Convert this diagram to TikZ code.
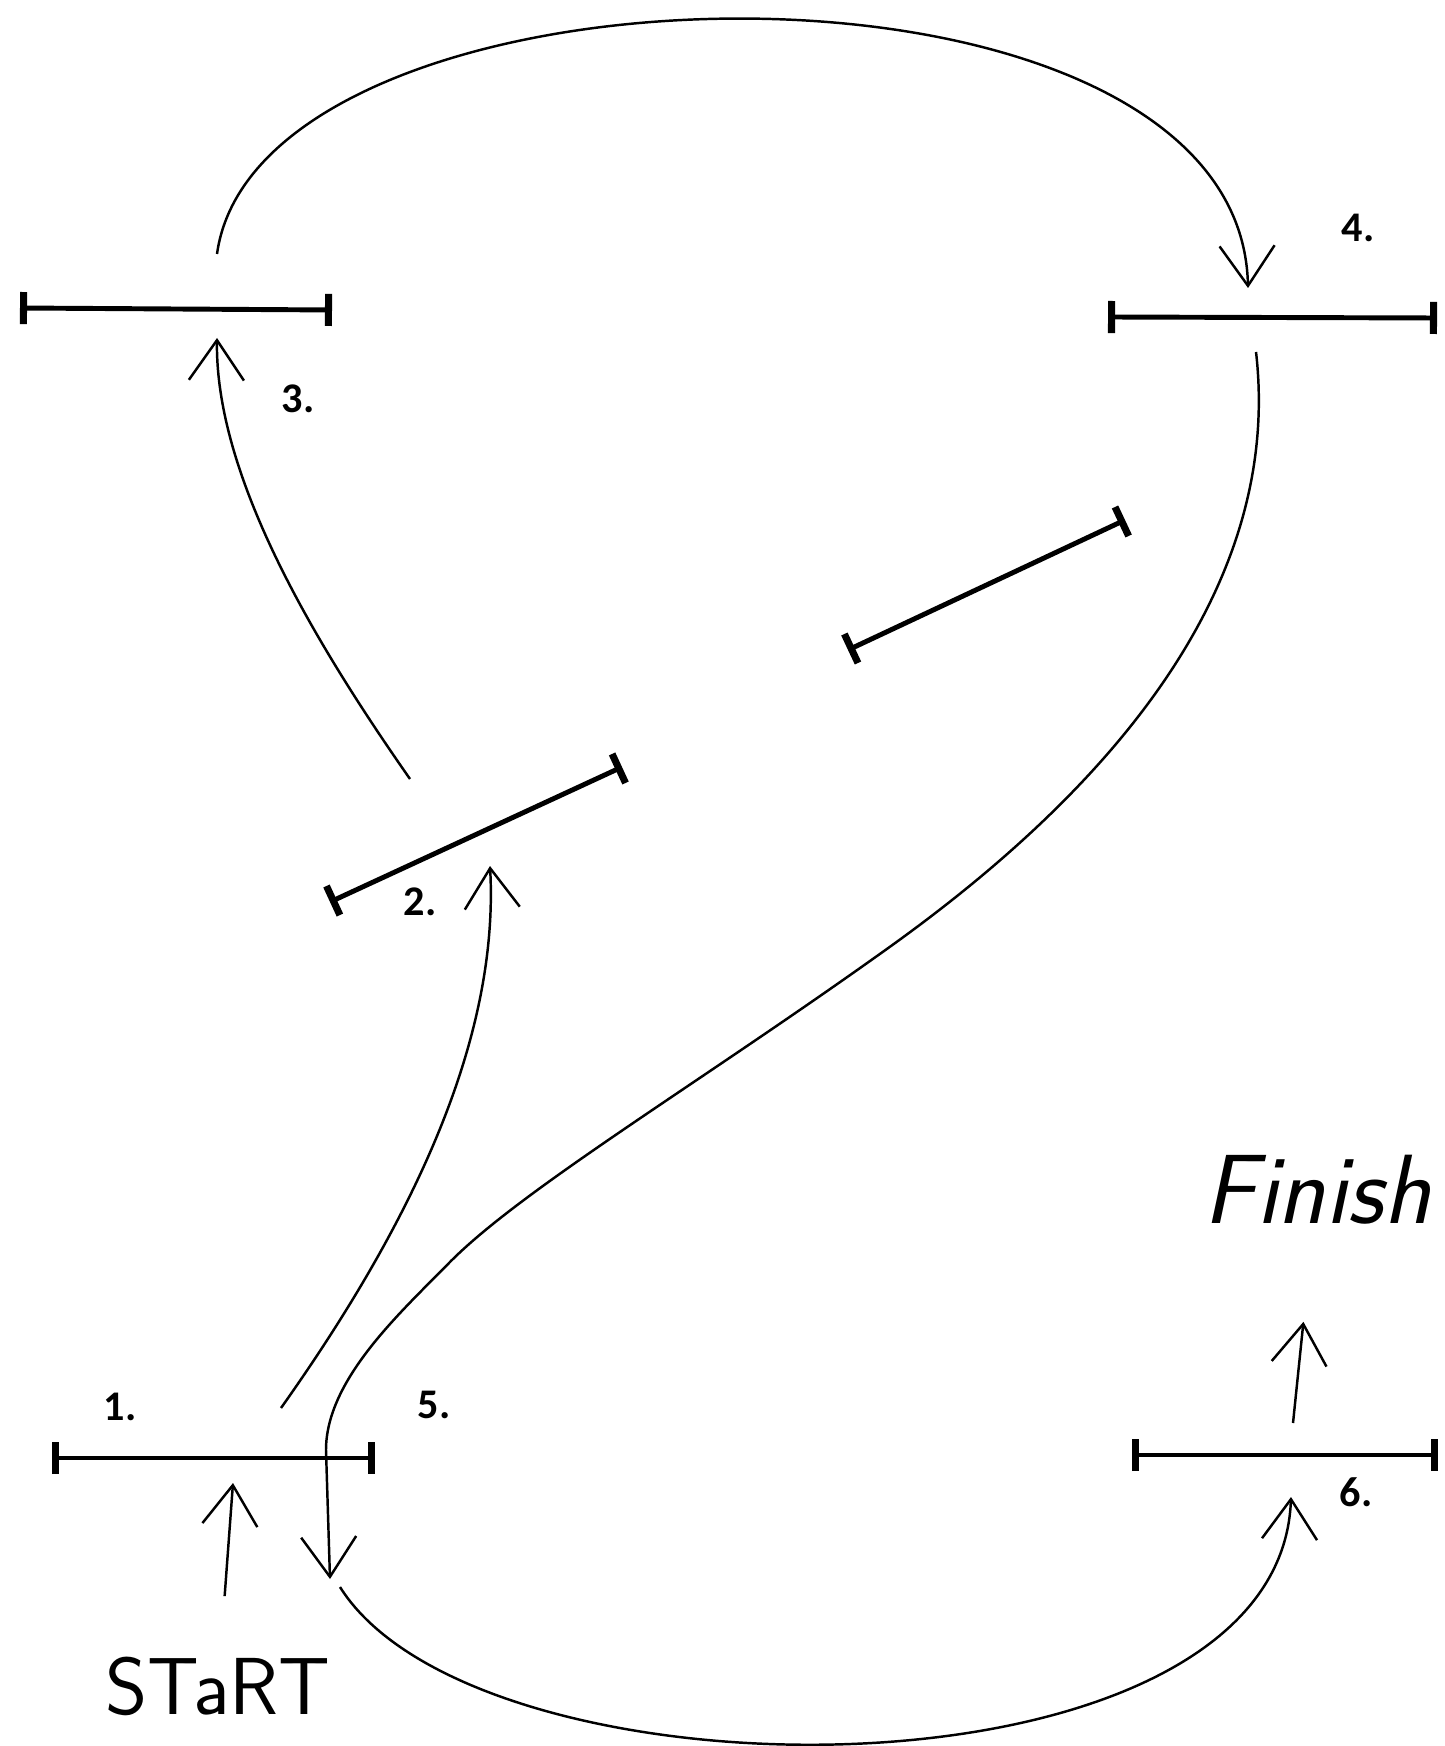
\documentclass[tikz,border=0pt]{standalone}
\usepackage{fontspec}
\newfontfamily\numfont{Carlito}
\usetikzlibrary{arrows.meta}

\tikzset{
  seg/.style={line width=1.4pt,{Bar[width=3.2mm,line width=2pt]}-{Bar[width=3.2mm,line width=2pt]}},
  move/.style={line width=0.7pt,-{Straight Barb[length=4mm,width=5.5mm]}},
  num/.style={font=\numfont\bfseries\fontsize{12}{14}\selectfont},
  hand/.style={inner sep=0pt,font=\sffamily\fontsize{23}{27}\selectfont},
}

\begin{document}
\begin{tikzpicture}[x=0.01cm,y=-0.01cm]
\useasboundingbox (0,0) rectangle (1444,1746);
% the six stops and the unlabeled one
\foreach \n/\xa/\ya/\xb/\yb in {1/52/1458/375/1458,2/330/902/622/767,3/20/308/332/310,4/1108/317/1437/318,6/1132/1455/1438/1455,mid/848/650/1125/520} {
  \coordinate (s\n a) at (\xa,\ya);
  \coordinate (s\n b) at (\xb,\yb);
  \draw[seg] (s\n a) -- (s\n b);
}
\node[num] (n1) at (120,1407) {1.};
\node[num] (n2) at (420,902) {2.};
\node[num] (n3) at (298,399) {3.};
\node[num] (n4) at (1358,228) {4.};
\node[num] (n5) at (434,1405) {5.};
\node[num] (n6) at (1356,1492) {6.};
\node[hand] (start) at (218,1686) {STaRT};
\node[hand,font=\sffamily\itshape\fontsize{28}{32}\selectfont] (finish) at (1317,1190) {Finish};
% ends of the moves
\coordinate (t1) at (233,1483);
\coordinate (f0) at (1293,1423);
\coordinate (p12) at (281,1408);
\coordinate (q12) at (490,866);
\coordinate (p23) at (410,779);
\coordinate (q23) at (217,338);
\coordinate (p34) at (217,254);
\coordinate (q34) at (1248,288);
\coordinate (p45) at (1256,352);
\coordinate (q45) at (330,1579);
\coordinate (p56) at (340,1587);
\coordinate (q56) at (1291,1497);
\draw[move,shorten <=6mm] (start) -- (t1);
\draw[move,shorten >=9.7mm] (f0) -- (finish);
\draw[move] (p12) .. controls (400,1240) and (500,1050) .. (q12);
\draw[move] (p23) .. controls (320,650) and (215,480) .. (q23);
\draw[move] (p34) .. controls (260,-55) and (1240,-75) .. (q34);
\draw[move] (p45) .. controls (1280,560) and (1150,760) .. (891,946)
  .. controls (700,1083) and (520,1190) .. (448,1264)
  .. controls (400,1313) and (326,1380) .. (326,1450) -- (q45);
\draw[move] (p56) .. controls (480,1810) and (1280,1810) .. (q56);
\end{tikzpicture}
\end{document}
